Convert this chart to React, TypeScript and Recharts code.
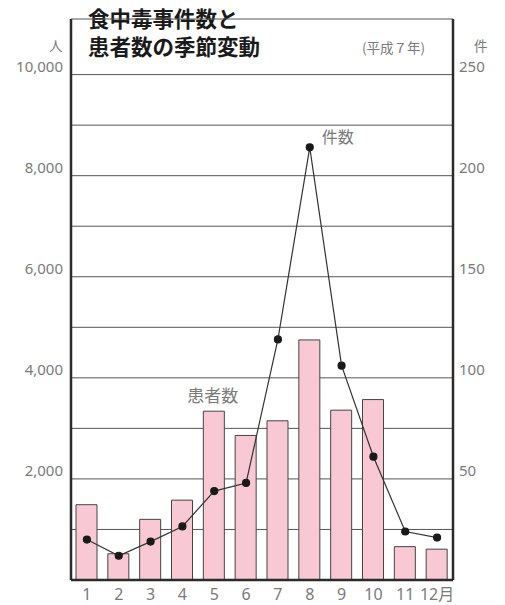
import { Bar, CartesianGrid, ComposedChart, LabelList, Line, XAxis, YAxis } from 'recharts'

const months = ['1', '2', '3', '4', '5', '6', '7', '8', '9', '10', '11', '12月']
// 患者数 (人)
const patients = [1490, 520, 1200, 1580, 3340, 2860, 3150, 4750, 3360, 3570, 660, 610]
// 事件数 (件)
const incidents = [20, 12, 19, 26.5, 44, 48, 119, 214, 106, 61, 24, 21]
const patientTicks = [0, 1000, 2000, 3000, 4000, 5000, 6000, 7000, 8000, 9000, 10000]
const incidentTicks = [0, 25, 50, 75, 100, 125, 150, 175, 200, 225, 250]

const data = months.map((month, i) => ({ month, patients: patients[i], incidents: incidents[i] }))

const labelFont = '"Noto Sans", "Noto Sans CJK JP", sans-serif'
const cjkFont = '"Noto Sans CJK JP", sans-serif'
const grey = '#7a7a7a'
const ink = '#2b2b2b'

function LeftTick({ x, y, payload }: any) {
  const v = payload.value as number
  if (v === 0 || v % 2000 !== 0) return <g />
  return (
    <text x={x} y={y - 7} textAnchor="end" dominantBaseline="middle" fontSize={15} fill={grey} fontFamily={labelFont}>
      {v.toLocaleString('en-US')}
    </text>
  )
}

function RightTick({ x, y, payload }: any) {
  const v = payload.value as number
  if (v === 0 || v % 50 !== 0) return <g />
  return (
    <text x={x} y={y - 7} textAnchor="start" dominantBaseline="middle" fontSize={15} fill={grey} fontFamily={labelFont}>
      {v}
    </text>
  )
}

function MonthTick({ x, y, payload }: any) {
  return (
    <text x={x} y={y + 12} textAnchor="middle" fontSize={16} fill={grey} fontFamily={labelFont}>
      {payload.value}
    </text>
  )
}

const titleStyle = {
  position: 'absolute' as const,
  left: 88,
  fontFamily: cjkFont,
  fontSize: 21.5,
  fontWeight: 700,
  lineHeight: 1,
  color: '#1a1a1a',
  whiteSpace: 'nowrap' as const,
}

export default function App() {
  return (
    <div style={{ position: 'absolute', left: 0, top: 0, width: 505, height: 605, background: '#fff' }}>
      <div style={{ ...titleStyle, top: 7 }}>食中毒事件数と</div>
      <div style={{ ...titleStyle, top: 35 }}>患者数の季節変動</div>
      <div style={{ position: 'absolute', left: 362, top: 41, fontFamily: cjkFont, fontSize: 13.5, lineHeight: 1, color: grey }}>
        (平成７年)
      </div>
      <div style={{ position: 'absolute', left: 49, top: 39, fontFamily: cjkFont, fontSize: 13.5, lineHeight: 1, color: grey }}>人</div>
      <div style={{ position: 'absolute', left: 474, top: 39, fontFamily: cjkFont, fontSize: 13.5, lineHeight: 1, color: grey }}>件</div>
      <ComposedChart width={505} height={605} data={data} margin={{ top: 19, right: 2, bottom: 4, left: 11 }}>
        <CartesianGrid yAxisId="left" vertical={false} stroke="#555" strokeWidth={1} />
        <XAxis
          dataKey="month"
          height={21}
          tickLine={false}
          tick={<MonthTick />}
          axisLine={{ stroke: ink, strokeWidth: 2.5 }}
          interval={0}
        />
        <YAxis
          yAxisId="left"
          width={60}
          domain={[0, 11100]}
          ticks={patientTicks}
          tickSize={0}
          tickMargin={8}
          tickLine={false}
          tick={<LeftTick />}
          axisLine={{ stroke: ink, strokeWidth: 2.5 }}
          allowDataOverflow
        />
        <YAxis
          yAxisId="right"
          orientation="right"
          width={50}
          domain={[0, 277.5]}
          ticks={incidentTicks}
          tickSize={0}
          tickMargin={6}
          tickLine={false}
          tick={<RightTick />}
          axisLine={{ stroke: ink, strokeWidth: 2.5 }}
          allowDataOverflow
        />
        <Bar yAxisId="left" dataKey="patients" barSize={21} fill="#f8c8d5" stroke="#444" strokeWidth={1} isAnimationActive={false}>
          <LabelList
            dataKey="patients"
            content={({ x, y, width, index }: any) =>
              index === 4 ? (
                <text
                  x={Number(x) + Number(width) / 2 - 1}
                  y={Number(y) - 14}
                  textAnchor="middle"
                  dominantBaseline="middle"
                  fontSize={17}
                  fill={grey}
                  fontFamily={cjkFont}
                >
                  患者数
                </text>
              ) : null
            }
          />
        </Bar>
        <Line
          yAxisId="right"
          dataKey="incidents"
          type="linear"
          stroke="#333"
          strokeWidth={1.2}
          dot={{ r: 3.5, fill: '#1a1a1a', stroke: '#1a1a1a' }}
          isAnimationActive={false}
        >
          <LabelList
            dataKey="incidents"
            content={({ x, y, index }: any) =>
              index === 7 ? (
                <text
                  x={Number(x) + 12}
                  y={Number(y) - 9}
                  textAnchor="start"
                  dominantBaseline="middle"
                  fontSize={16}
                  fill={grey}
                  fontFamily={cjkFont}
                >
                  件数
                </text>
              ) : null
            }
          />
        </Line>
      </ComposedChart>
    </div>
  )
}
